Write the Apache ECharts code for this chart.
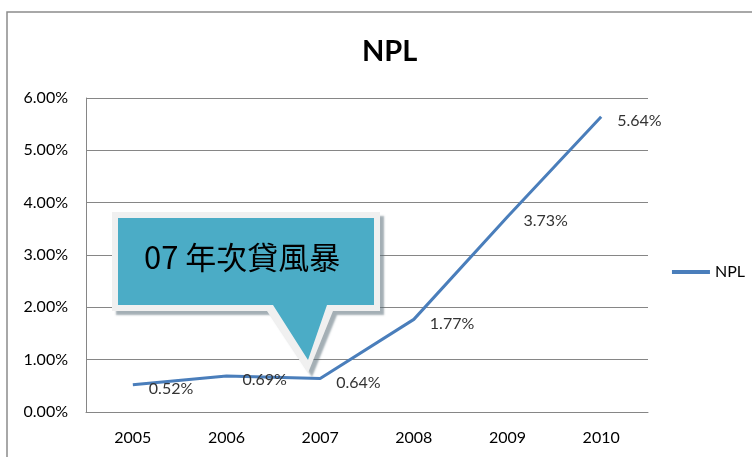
<!DOCTYPE html>
<html><head><meta charset="utf-8">
<script src="https://cdn.jsdelivr.net/npm/echarts@6/dist/echarts.min.js"></script>
<style>html,body{margin:0;padding:0;background:#fff}#c{width:752px;height:457px}</style>
</head><body><div id="c"></div>
<script>
const categories = ['2005','2006','2007','2008','2009','2010'];
const nplValues = [0.52, 0.69, 0.64, 1.77, 3.73, 5.64];
const seriesName = 'NPL';
const titleText = 'NPL';
const calloutText = '07 年次貸風暴';

const chart = echarts.init(document.getElementById('c'));
const font = 'Lato, "Open Sans", sans-serif';
chart.setOption({
  animation: false,
  backgroundColor: '#fff',
  title: {text: titleText, left: 357, top: 32, textStyle: {fontFamily: font, fontSize: 29, fontWeight: 'bold', color: '#000'}},
  legend: {right: 2, top: 259, itemWidth: 38, itemHeight: 4, icon: 'rect', itemGap: 4,
    textStyle: {fontFamily: font, fontSize: 16, color: '#000'}, data: [seriesName]},
  grid: {left: 86, right: 104, top: 98, bottom: 45},
  xAxis: {type: 'category', data: categories, boundaryGap: true,
    axisLine: {lineStyle: {color: '#868686'}}, axisTick: {show: false},
    axisLabel: {fontFamily: font, fontSize: 16, color: '#000', margin: 18}},
  yAxis: {type: 'value', min: 0, max: 6, interval: 1,
    axisLine: {show: true, lineStyle: {color: '#868686'}}, axisTick: {show: false},
    splitLine: {lineStyle: {color: '#868686'}},
    axisLabel: {fontFamily: font, fontSize: 16, color: '#000', margin: 18, formatter: v => v.toFixed(2) + '%'}},
  series: [{name: seriesName, type: 'line', data: nplValues, showSymbol: true, symbol: 'circle', symbolSize: 0.01,
    lineStyle: {color: '#4A7EBB', width: 3}, itemStyle: {color: '#4A7EBB'},
    label: {show: true, position: 'right', distance: 16, offset: [0, 4], fontFamily: font, fontSize: 16, color: '#333',
      formatter: p => p.value.toFixed(2) + '%'}}],
  graphic: [
    {type: 'rect', shape: {x: 7, y: 12, width: 760, height: 460}, style: {fill: 'none', stroke: '#8c8c8c', lineWidth: 1.5}, silent: true, z: 0},
    {type: 'polygon', z: 100,
      shape: {points: [[112,212],[380,212],[380,311],[333,311],[308,373],[267,311],[112,311]]},
      style: {fill: '#f0f0f0', shadowColor: 'rgba(90,110,120,0.55)', shadowOffsetX: 4, shadowOffsetY: 4, shadowBlur: 2}},
    {type: 'polygon', z: 101,
      shape: {points: [[118,218],[374,218],[374,305],[327,305],[308,360],[273,305],[118,305]]},
      style: {fill: '#4BACC6'}},
    {type: 'text', z: 102, left: 144, top: 242,
      style: {text: calloutText, fontFamily: '"Noto Sans CJK TC", serif', fontSize: 31, fill: '#000'}}
  ]
});
</script></body></html>
